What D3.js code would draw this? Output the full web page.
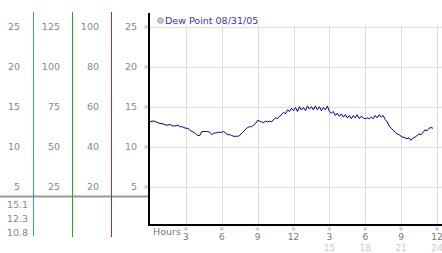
<!DOCTYPE html>
<html>
<head>
<meta charset="utf-8">
<script src="https://cdn.jsdelivr.net/npm/d3@7"></script>
<style>
  body { margin: 0; background: #fff; }
  svg { display: block; }
  text { font-family: "DejaVu Sans", Verdana, sans-serif; }
</style>
</head>
<body>
<svg id="chart" width="442" height="253"></svg>
<script>
// dew point readings, every 10 minutes from midnight
var dewPoint = [
  13.1, 13.2, 13.2, 13.1, 13.0, 12.9,
  12.9, 12.8, 12.7, 12.7, 12.8, 12.6,
  12.6, 12.6, 12.7, 12.5, 12.5, 12.4,
  12.3, 12.3, 12.1, 11.9, 11.8, 11.6,
  11.4, 11.4, 11.9, 11.9, 11.9, 11.9,
  11.8, 11.5, 11.7, 11.7, 11.8, 11.8,
  11.8, 11.9, 11.7, 11.5, 11.5, 11.4,
  11.3, 11.3, 11.3, 11.4, 11.7, 11.9,
  12.2, 12.4, 12.5, 12.5, 12.7, 12.9,
  13.3, 13.2, 13.1, 13.0, 13.2, 13.1,
  13.2, 13.1, 13.4, 13.6, 13.5, 13.8,
  14.0, 14.3, 14.1, 14.6, 14.4, 14.8,
  14.5, 14.9, 14.4, 15.0, 14.6, 14.9,
  14.5, 15.1, 14.7, 15.0, 14.6, 15.1,
  14.6, 15.0, 14.5, 14.9, 14.6, 15.1,
  14.4, 14.2, 14.4, 13.9, 14.2, 13.8,
  14.1, 13.7, 14.0, 13.6, 13.9, 13.5,
  13.9, 13.6, 14.0, 13.5, 13.8, 13.6,
  13.5, 13.6, 13.5, 13.7, 13.5, 13.9,
  13.6, 14.0, 13.7, 13.9, 13.4, 13.1,
  12.6, 12.3, 12.1, 11.8, 11.6, 11.5,
  11.3, 11.2, 11.1, 11.0, 11.1, 10.8,
  11.1, 11.2, 11.4, 11.6, 11.5, 11.8,
  12.1, 12.0, 12.3, 12.4, 12.3
];
var minutesPerReading = 10;

var yTicks = [5, 10, 15, 20, 25];
var col2Ticks = [25, 50, 75, 100, 125];
var col3Ticks = [20, 40, 60, 80, 100];
var hourTicks = [3, 6, 9, 12, 15, 18, 21, 24];
var hourLabels = ["3", "6", "9", "12", "3", "6", "9", "12"];
var hour24Labels = ["", "", "", "", "15", "18", "21", "24"];
var statLabels = ["15.1", "12.3", "10.8"];
var title = "Dew Point 08/31/05";

var svg = d3.select("#chart");

var x = d3.scaleLinear().domain([0, 24]).range([150, 437]);
var y = d3.scaleLinear().domain([0, 25]).range([226.7, 26.7]);

// left side scale columns
var cols = [
  {ticks: yTicks, right: 20},
  {ticks: col2Ticks, right: 60},
  {ticks: col3Ticks, right: 99},
  {ticks: yTicks, right: 137}
];
cols.forEach(function(c){
  svg.append("g").selectAll("text")
    .data(c.ticks)
    .enter()
    .append("text")
    .text(function(d){ return d; })
    .attr("x", c.right)
    .attr("y", function(d, i){ return y(yTicks[i]) + 3.5; })
    .attr("text-anchor", "end")
    .attr("font-size", 9.5)
    .attr("fill", "#888");
});

// gray separator
svg.append("line")
  .attr("x1", 0).attr("x2", 149)
  .attr("y1", 196.5).attr("y2", 196.5)
  .attr("stroke", "#999").attr("stroke-width", 2);

// colored dividers
var dividers = [
  {x: 33.5, color: "#2a9fd0", bottom: 236},
  {x: 72.5, color: "#22aa22", bottom: 237},
  {x: 111.5, color: "#c02828", bottom: 237}
];
svg.selectAll(".divider")
  .data(dividers)
  .enter()
  .append("line")
  .attr("class", "divider")
  .attr("x1", function(d){ return d.x; })
  .attr("x2", function(d){ return d.x; })
  .attr("y1", 12)
  .attr("y2", function(d){ return d.bottom; })
  .attr("stroke", function(d){ return d.color; })
  .attr("stroke-width", 1);

svg.selectAll(".stat")
  .data(statLabels)
  .enter()
  .append("text")
  .attr("class", "stat")
  .text(function(d){ return d; })
  .attr("x", 7)
  .attr("y", function(d, i){ return 207.5 + i * 14; })
  .attr("font-size", 9.5)
  .attr("fill", "#888");

// grid
var grid = svg.append("g");
grid.selectAll(".hg")
  .data(yTicks)
  .enter()
  .append("line")
  .attr("x1", 150).attr("x2", 442)
  .attr("y1", function(d){ return Math.round(y(d)) + 0.5; })
  .attr("y2", function(d){ return Math.round(y(d)) + 0.5; })
  .attr("stroke", "#ddd");
grid.selectAll(".vg")
  .data(hourTicks)
  .enter()
  .append("line")
  .attr("x1", function(d){ return Math.round(x(d)) + 0.5; })
  .attr("x2", function(d){ return Math.round(x(d)) + 0.5; })
  .attr("y1", 25).attr("y2", 225)
  .attr("stroke", "#ddd");

// little tick marks
svg.selectAll(".ymark")
  .data(yTicks)
  .enter()
  .append("text")
  .text("※")
  .attr("x", 146)
  .attr("y", function(d){ return y(d) + 2; })
  .attr("text-anchor", "middle")
  .attr("font-size", 6)
  .attr("fill", "#aaa");
svg.selectAll(".xmark")
  .data(hourTicks)
  .enter()
  .append("text")
  .text("※")
  .attr("x", function(d){ return x(d); })
  .attr("y", 231)
  .attr("text-anchor", "middle")
  .attr("font-size", 6)
  .attr("fill", "#aaa");

// axes
svg.append("line")
  .attr("x1", 149).attr("x2", 149)
  .attr("y1", 13).attr("y2", 226)
  .attr("stroke", "#000").attr("stroke-width", 2);
svg.append("line")
  .attr("x1", 148).attr("x2", 442)
  .attr("y1", 225).attr("y2", 225)
  .attr("stroke", "#000").attr("stroke-width", 2);

svg.append("text")
  .text("Hours")
  .attr("x", 153).attr("y", 235)
  .attr("font-size", 9.5)
  .attr("fill", "#777");

svg.selectAll(".hl")
  .data(hourTicks)
  .enter()
  .append("text")
  .text(function(d, i){ return hourLabels[i]; })
  .attr("x", function(d){ return x(d); })
  .attr("y", 240)
  .attr("text-anchor", "middle")
  .attr("font-size", 9)
  .attr("fill", "#777");
svg.selectAll(".hl24")
  .data(hourTicks)
  .enter()
  .append("text")
  .text(function(d, i){ return hour24Labels[i]; })
  .attr("x", function(d){ return x(d); })
  .attr("y", 251)
  .attr("text-anchor", "middle")
  .attr("font-size", 9)
  .attr("fill", "#ccc");

// title
svg.append("circle")
  .attr("cx", 160.5).attr("cy", 20.5).attr("r", 2.8)
  .attr("fill", "#ccc").attr("stroke", "#999");
svg.append("text")
  .text(title)
  .attr("x", 165).attr("y", 24)
  .attr("font-size", 9.5)
  .attr("fill", "#3333bb");

// data line
var line = d3.line()
  .x(function(d, i){ return x(i * minutesPerReading / 60); })
  .y(function(d){ return y(d); });
svg.append("path")
  .datum(dewPoint)
  .attr("d", line)
  .attr("fill", "none")
  .attr("stroke", "#000099")
  .attr("stroke-width", 1);
</script>
</body>
</html>
